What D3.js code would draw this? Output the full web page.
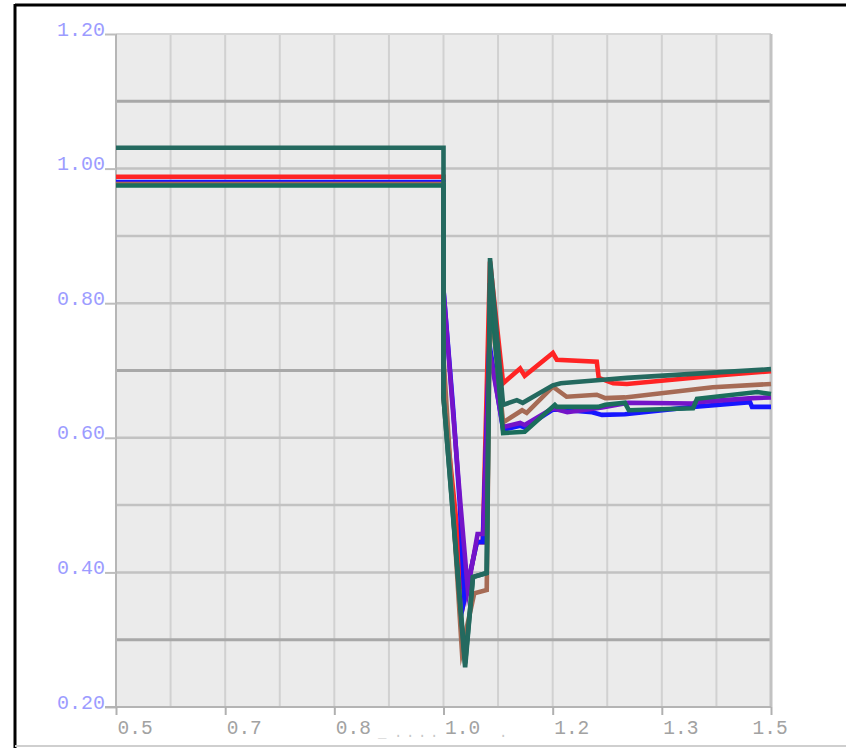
<!DOCTYPE html>
<html>
<head>
<meta charset="utf-8">
<script src="https://cdn.jsdelivr.net/npm/d3@7"></script>
<style>
html,body{margin:0;padding:0;background:#fff;}
svg{display:block;}
</style>
</head>
<body>
<svg id="chart" width="846" height="748"></svg>
<script>
// ---- data ----
const xTickValues = [0.5, 0.6667, 0.8333, 1.0, 1.1667, 1.3333, 1.5];
const xTickLabels = ["0.5", "0.7", "0.8", "1.0", "1.2", "1.3", "1.5"];
const yTickValues = [1.2, 1.0, 0.8, 0.6, 0.4, 0.2];
const yTickLabels = ["1.20", "1.00", "0.80", "0.60", "0.40", "0.20"];
const xGridValues = [0.5833, 0.6667, 0.75, 0.8333, 0.9167, 1.0, 1.0833, 1.1667, 1.25, 1.3333, 1.4167];
const yGridLight = [1.0, 0.9, 0.8, 0.6, 0.5, 0.4];
const yGridDark = [1.1, 0.7, 0.3];

const redSeries = [[0.5,0.988],[1.0,0.988],[1.0,0.66],[1.032,0.36],[1.051,0.445],[1.060,0.445],[1.071,0.862],[1.091,0.681],[1.117,0.703],[1.124,0.692],[1.167,0.726],[1.173,0.716],[1.234,0.713],[1.237,0.689],[1.259,0.681],[1.280,0.680],[1.422,0.693],[1.5,0.699]];
const blueSeries = [[0.5,0.980],[1.0,0.980],[1.0,0.82],[1.015,0.64],[1.025,0.50],[1.032,0.36],[1.051,0.445],[1.060,0.445],[1.070,0.74],[1.091,0.612],[1.117,0.618],[1.124,0.615],[1.167,0.642],[1.189,0.641],[1.227,0.638],[1.242,0.634],[1.277,0.635],[1.381,0.646],[1.468,0.653],[1.471,0.646],[1.5,0.646]];
const purpleSeries = [[0.5,0.977],[1.0,0.977],[1.0,0.82],[1.014,0.645],[1.026,0.50],[1.037,0.375],[1.052,0.457],[1.061,0.457],[1.070,0.73],[1.091,0.616],[1.117,0.622],[1.124,0.619],[1.167,0.644],[1.189,0.638],[1.242,0.645],[1.282,0.652],[1.381,0.651],[1.387,0.653],[1.472,0.659],[1.5,0.660]];
const brownSeries = [[0.5,0.977],[1.0,0.977],[1.0,0.72],[1.028,0.285],[1.047,0.369],[1.066,0.374],[1.071,0.81],[1.091,0.623],[1.120,0.641],[1.127,0.637],[1.167,0.676],[1.188,0.661],[1.234,0.664],[1.247,0.659],[1.277,0.660],[1.411,0.675],[1.5,0.680]];
const teal2Series = [[0.5,0.975],[1.0,0.975],[1.0,0.66],[1.033,0.265],[1.045,0.393],[1.066,0.399],[1.071,0.83],[1.091,0.607],[1.124,0.609],[1.170,0.649],[1.173,0.646],[1.236,0.646],[1.247,0.649],[1.277,0.652],[1.283,0.641],[1.381,0.644],[1.387,0.658],[1.479,0.668],[1.5,0.665]];
const teal1Series = [[0.5,1.031],[1.0,1.031],[1.0,0.66],[1.033,0.259],[1.045,0.393],[1.066,0.399],[1.071,0.867],[1.091,0.649],[1.112,0.656],[1.121,0.652],[1.167,0.678],[1.179,0.681],[1.239,0.686],[1.280,0.689],[1.380,0.695],[1.5,0.702]];

const seriesList = [redSeries, blueSeries, purpleSeries, brownSeries, teal2Series, teal1Series];
const seriesColors = ["#ff2424", "#1616ff", "#7414c8", "#a66b55", "#1b6e5c", "#24695f"];

// ---- drawing ----
const svg = d3.select("#chart");
const L = 116, R = 771, T = 34, B = 707;
const x = d3.scaleLinear().domain([0.5, 1.5]).range([L, R]);
const y = d3.scaleLinear().domain([0.2, 1.2]).range([B, T]);

// outer frame
svg.append("line").attr("x1", 15).attr("x2", 846).attr("y1", 5).attr("y2", 5).attr("stroke", "#000").attr("stroke-width", 3);
svg.append("line").attr("x1", 15).attr("x2", 15).attr("y1", 4).attr("y2", 748).attr("stroke", "#000").attr("stroke-width", 3);
svg.append("line").attr("x1", 15).attr("x2", 846).attr("y1", 746).attr("y2", 746).attr("stroke", "#cfcfcf").attr("stroke-width", 2);

// plot background
svg.append("rect").attr("x", L).attr("y", T).attr("width", R - L).attr("height", B - T).attr("fill", "#ebebeb");

// grid
svg.append("g").selectAll("line").data(xGridValues).join("line")
  .attr("x1", d => x(d)).attr("x2", d => x(d)).attr("y1", T).attr("y2", B)
  .attr("stroke", "#d1d1d1").attr("stroke-width", 2);
svg.append("g").selectAll("line").data(yGridLight).join("line")
  .attr("x1", L).attr("x2", R).attr("y1", d => y(d)).attr("y2", d => y(d))
  .attr("stroke", "#c2c2c2").attr("stroke-width", 2.5);
svg.append("g").selectAll("line").data(yGridDark).join("line")
  .attr("x1", L).attr("x2", R).attr("y1", d => y(d)).attr("y2", d => y(d))
  .attr("stroke", "#a8a8a8").attr("stroke-width", 3);

// plot borders
svg.append("line").attr("x1", L).attr("x2", R).attr("y1", T).attr("y2", T).attr("stroke", "#d6d6d6").attr("stroke-width", 2);
svg.append("line").attr("x1", L).attr("x2", L).attr("y1", T).attr("y2", B).attr("stroke", "#b6b6b6").attr("stroke-width", 2);
svg.append("line").attr("x1", R).attr("x2", R).attr("y1", T).attr("y2", B).attr("stroke", "#c2c2c2").attr("stroke-width", 3);

// y axis
const yAxis = d3.axisLeft(y).tickValues(yTickValues).tickSize(11).tickFormat((d, i) => yTickLabels[i]);
const gy = svg.append("g").attr("transform", `translate(${L},0)`).call(yAxis);
gy.select(".domain").remove();
gy.selectAll(".tick line").attr("stroke", "#bdbdbd").attr("stroke-width", 2);
gy.selectAll(".tick text").attr("fill", "#9c9cff").attr("font-family", "Liberation Mono, monospace")
  .attr("font-size", 20).attr("x", -11).attr("dy", "0.05em").attr("text-anchor", "end");

// x axis
const xAxis = d3.axisBottom(x).tickValues(xTickValues).tickSize(8).tickFormat((d, i) => xTickLabels[i]);
const gx = svg.append("g").attr("transform", `translate(0,${B})`).call(xAxis);
gx.select(".domain").attr("stroke", "#b4b4b4").attr("stroke-width", 2).attr("d", `M${L - 11},0H${R}`);
gx.selectAll(".tick line").attr("stroke", "#b0b0b0").attr("stroke-width", 2);
gx.selectAll(".tick text").attr("fill", "#a2a2a2").attr("font-family", "Liberation Mono, monospace")
  .attr("font-size", 19.5).attr("text-anchor", "start").attr("y", 27).attr("dy", 0)
  .attr("x", (d, i) => i === xTickValues.length - 1 ? -19 : 1);

// faint clipped title marks near the axis
const marks = [["_", 378], [".", 394], [".", 406], [".", 418], [".", 430], [".", 499]];
svg.append("g").selectAll("text").data(marks).join("text")
  .attr("x", d => d[1]).attr("y", 737).text(d => d[0])
  .attr("fill", "#c8c8c8").attr("font-family", "Liberation Mono, monospace").attr("font-size", 14);

// series
const line = d3.line().x(d => x(d[0])).y(d => y(d[1]));
svg.append("g").selectAll("path").data(seriesList).join("path")
  .attr("d", d => line(d)).attr("fill", "none")
  .attr("stroke", (d, i) => seriesColors[i]).attr("stroke-width", 4.6)
  .attr("stroke-linejoin", "miter").attr("stroke-miterlimit", 10);
</script>
</body>
</html>
